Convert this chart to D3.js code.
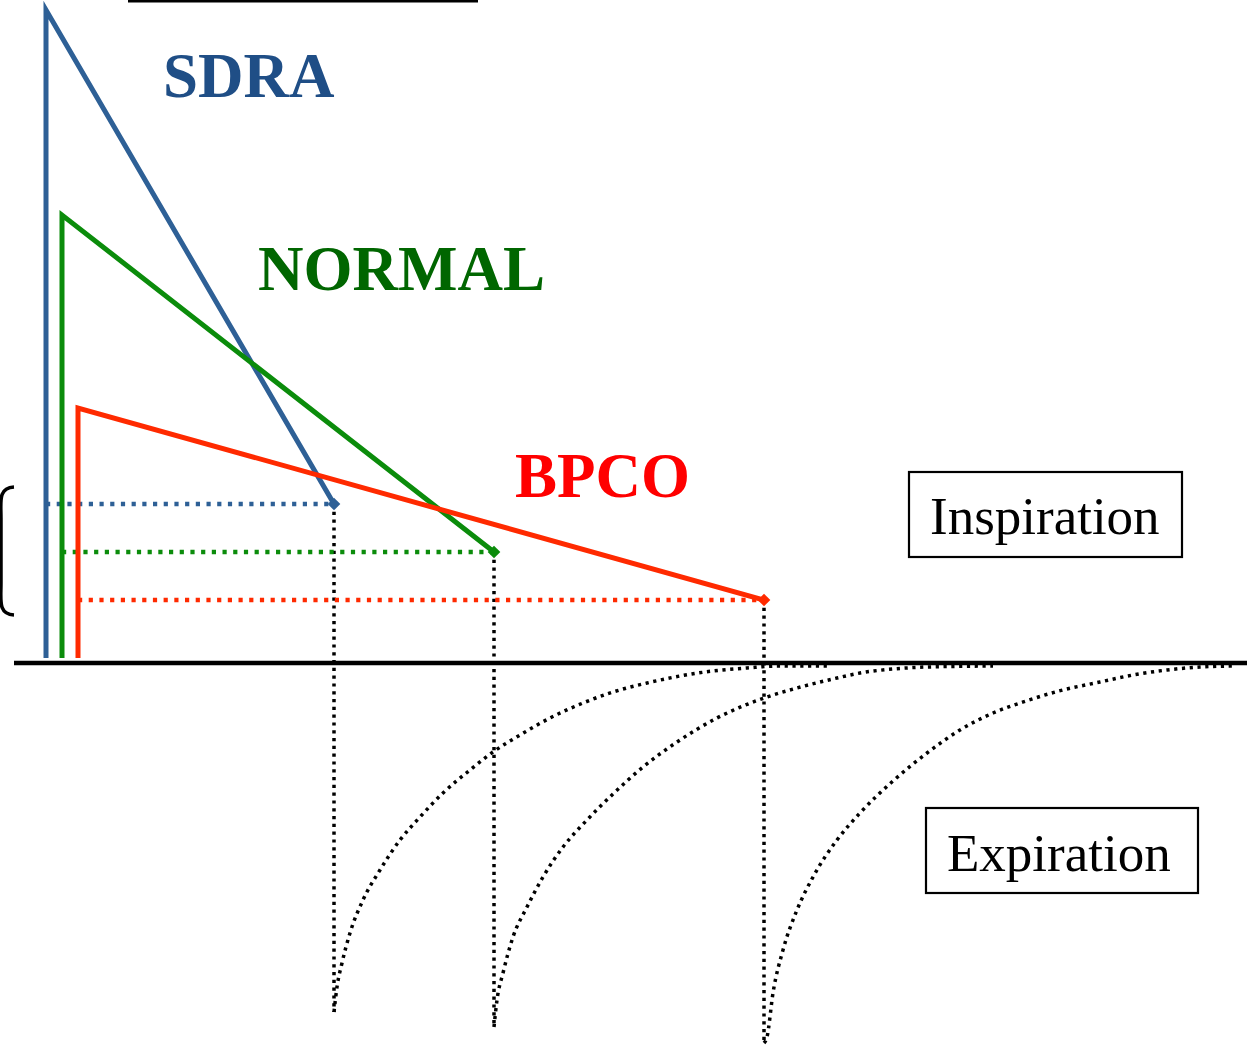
<!DOCTYPE html>
<html>
<head>
<meta charset="utf-8">
<script src="https://d3js.org/d3.v7.min.js"></script>
<style>
  body { margin: 0; background: #fff; }
  svg { display: block; }
</style>
</head>
<body>
<script>
/* data: time (ms) and flow (mL/s) */
var series = ["SDRA", "NORMAL", "BPCO"];
var lineColors = ["#2E6096", "#0B8C0B", "#FF2A00"];
var textColors = ["#1F4E86", "#006600", "#FF0000"];
var startTime = [0, 16, 32];
var peakFlow = [653, 448, 255];
var endTime = [288, 448, 718];
var plateauFlow = [159, 111, 63];

/* expiratory flow curves, one per series */
var expCurve1 = [[288,-349],[291,-324],[296,-300],[304,-270],[317,-237],[334,-207],[354,-177],[374,-154],
  [397,-130],[424,-107],[447,-89],[474,-72],[504,-55],[537,-40],[567,-29],[601,-20],[634,-13],
  [667,-8],[701,-5],[734,-3],[781,-3]];
var expCurve2 = [[448,-364],[451,-337],[457,-310],[467,-274],[481,-244],[497,-214],[517,-184],[541,-157],
  [567,-131],[597,-104],[631,-79],[671,-55],[721,-34],[751,-25],[791,-15],[814,-10],[847,-6],
  [881,-4],[947,-3]];
var expCurve3 = [[718,-380],[721,-374],[727,-330],[737,-287],[751,-247],[767,-214],[791,-177],[814,-150],
  [847,-118],[881,-90],[914,-67],[947,-50],[980,-38],[1013,-28],[1054,-19],[1087,-12],
  [1121,-7],[1154,-4],[1187,-3]];
var expCurves = [expCurve1, expCurve2, expCurve3];

var width = 1259, height = 1052;

var svg = d3.select("body").append("svg")
  .attr("width", width).attr("height", height);

var x = d3.scaleLinear().domain([0, 1200]).range([46, 1246]);
var y = d3.scaleLinear().domain([0, 653]).range([663, 10]);

/* stray rule at the very top */
svg.append("line")
  .attr("x1", x(82)).attr("x2", x(432))
  .attr("y1", 1).attr("y2", 1)
  .attr("stroke", "#000").attr("stroke-width", 3);

/* bracket on the left */
svg.append("path")
  .attr("d", "M" + x(-32) + "," + y(176) +
    " C" + x(-48) + "," + y(175) + " " + x(-45) + "," + y(162) + " " + x(-45) + "," + y(145) +
    " L" + x(-45) + "," + y(80) +
    " C" + x(-45) + "," + y(62) + " " + x(-48) + "," + y(49) + " " + x(-32) + "," + y(48))
  .attr("fill", "none").attr("stroke", "#000").attr("stroke-width", 3.5);

/* black dotted verticals from end of inspiration down to start of expiration */
series.forEach(function(s, i) {
  svg.append("line")
    .attr("x1", x(endTime[i])).attr("x2", x(endTime[i]))
    .attr("y1", y(plateauFlow[i])).attr("y2", y(expCurves[i][0][1]))
    .attr("stroke", "#000").attr("stroke-width", 3.5)
    .attr("stroke-dasharray", "3.2,4.6");
});

/* expiration curves */
var line = d3.line()
  .x(function(d) { return x(d[0]); })
  .y(function(d) { return y(d[1]); })
  .curve(d3.curveMonotoneX);

expCurves.forEach(function(c) {
  svg.append("path")
    .datum(c)
    .attr("d", line)
    .attr("fill", "none")
    .attr("stroke", "#000").attr("stroke-width", 3.5)
    .attr("stroke-dasharray", "3.2,4.6");
});

/* baseline */
svg.append("line")
  .attr("x1", x(-32)).attr("x2", x(1201))
  .attr("y1", y(0)).attr("y2", y(0))
  .attr("stroke", "#000").attr("stroke-width", 4.5);

/* coloured dotted plateau lines */
series.forEach(function(s, i) {
  svg.append("line")
    .attr("x1", x(startTime[i])).attr("x2", x(endTime[i]))
    .attr("y1", y(plateauFlow[i])).attr("y2", y(plateauFlow[i]))
    .attr("stroke", lineColors[i]).attr("stroke-width", 4.5)
    .attr("stroke-dasharray", "4.2,6.5");
});

/* inspiration flow: vertical rise then linear decay */
var insp = d3.line()
  .x(function(d) { return x(d[0]); })
  .y(function(d) { return y(d[1]); });

series.forEach(function(s, i) {
  var pts = [[startTime[i], 5], [startTime[i], peakFlow[i]], [endTime[i], plateauFlow[i]]];
  svg.append("path")
    .datum(pts)
    .attr("d", insp)
    .attr("fill", "none")
    .attr("stroke", lineColors[i]).attr("stroke-width", 5)
    .attr("stroke-linejoin", "miter");

  svg.append("path")
    .attr("d", d3.symbol().type(d3.symbolSquare).size(80)())
    .attr("transform", "translate(" + x(endTime[i]) + "," + y(plateauFlow[i]) + ") rotate(45)")
    .attr("fill", lineColors[i]);
});

/* series labels */
var labelPos = [[163, 97], [258, 290], [515, 497]];
series.forEach(function(s, i) {
  svg.append("text")
    .attr("x", labelPos[i][0]).attr("y", labelPos[i][1])
    .attr("font-family", "'Liberation Serif', 'Times New Roman', serif")
    .attr("font-weight", "bold")
    .attr("font-size", "63px")
    .attr("fill", textColors[i])
    .text(s);
});

/* boxed labels */
var boxes = [
  { text: "Inspiration", x: 909, y: 472, w: 273, h: 85, tx: 930, ty: 534 },
  { text: "Expiration", x: 926, y: 808, w: 272, h: 85, tx: 947, ty: 871 }
];
boxes.forEach(function(b) {
  svg.append("rect")
    .attr("x", b.x).attr("y", b.y).attr("width", b.w).attr("height", b.h)
    .attr("fill", "none").attr("stroke", "#000").attr("stroke-width", 2.2);
  svg.append("text")
    .attr("x", b.tx).attr("y", b.ty)
    .attr("font-family", "'Liberation Serif', 'Times New Roman', serif")
    .attr("font-size", "53px")
    .attr("fill", "#000")
    .text(b.text);
});
</script>
</body>
</html>
